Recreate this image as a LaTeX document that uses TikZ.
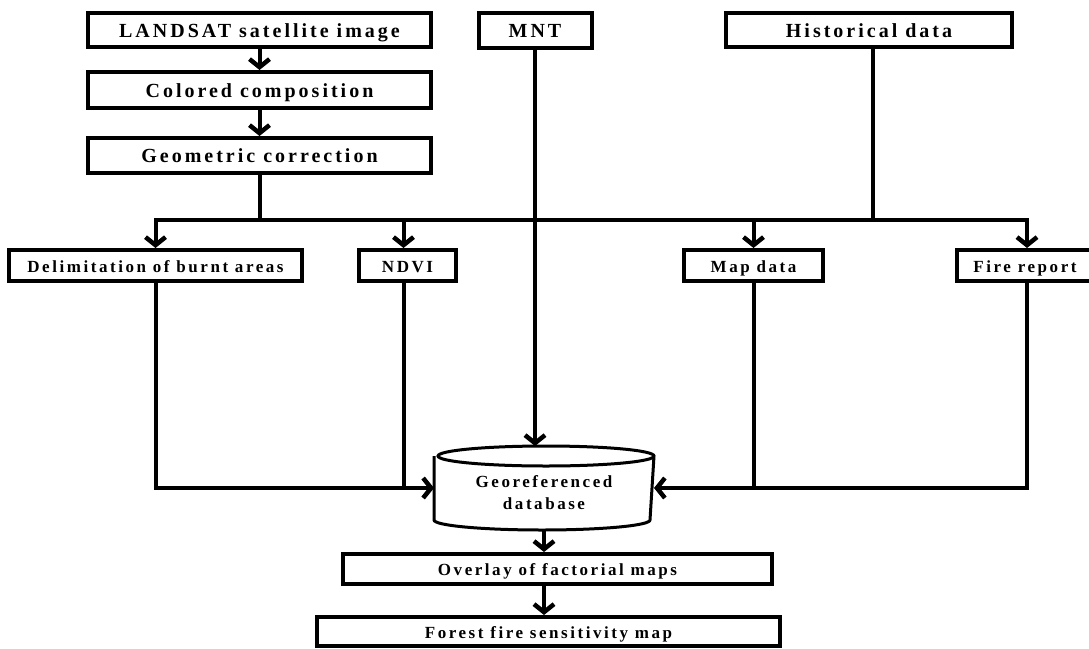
\documentclass[tikz,border=0pt]{standalone}
\usepackage{fontspec}
\newfontfamily\flowfont{Liberation Serif}[LetterSpace=15]
\usetikzlibrary{positioning, arrows.meta}
\newcommand{\lw}{4pt}

\begin{document}
\begin{tikzpicture}[
        on grid,
        x = 1pt, y = 1pt,
        -{Straight Barb[length=8pt, width=20pt, line width=4.5pt]},
        line width = \lw,
        box/.style = {draw, rectangle, inner sep = 0pt, line width = \lw,
          text height = 14pt, text depth = 0pt,
          font = \flowfont\bfseries\fontsize{20}{24}\selectfont},
        smallbox/.style = {box, text height = 13pt, font = \flowfont\bfseries\fontsize{17}{20}\selectfont},
        dbase/.style = {inner sep = 0pt, align = center, minimum width = 216pt, minimum height = 70pt,
          font = \flowfont\bfseries\fontsize{17}{22}\selectfont}]

      \useasboundingbox (0,0) rectangle (1089,-648);

      %image chain
      \node[box, minimum width = 343pt, minimum height = 34pt] (LandsatImg) at (259.5,-30) {LANDSAT satellite image};
      \node[box, minimum width = 343pt, minimum height = 36pt] (ColorComp) [below = 60pt of LandsatImg] {Colored composition};
      \node[box, minimum width = 343pt, minimum height = 35pt] (GeoCorr) [below = 65.5pt of ColorComp] {Geometric correction};

      %other sources
      \node[box, minimum width = 113pt, minimum height = 35pt] (Mnt) at (535,-30.5) {MNT};
      \node[box, minimum width = 286pt, minimum height = 34pt] (HistData) at (869,-30) {Historical data};

      %derived layers
      \node[smallbox, minimum width = 293pt, minimum height = 31pt] (BurntAreas) at (155.5,-265.5) {Delimitation of burnt areas};
      \node[smallbox, minimum width = 97pt, minimum height = 31pt] (Ndvi) at (407.5,-265.5) {NDVI};
      \node[smallbox, minimum width = 139pt, minimum height = 31pt] (MapData) at (753.5,-265.5) {Map data};
      \node[smallbox, minimum width = 136pt, minimum height = 31pt] (FireReport) at (1025,-265.5) {Fire report};

      %database
      \node[dbase] (GeoDb) at (544,-493) {Georeferenced\\database};
      \draw[-, line width = 3pt]
        (GeoDb.north west) -- ([yshift=10pt]GeoDb.south west)
        arc[start angle=180, end angle=360, x radius=108pt, y radius=10pt]
        -- (GeoDb.north east)
        arc[start angle=0, end angle=360, x radius=108pt, y radius=10pt];

      %results
      \node[smallbox, minimum width = 429pt, minimum height = 30pt] (Overlay) at (557.5,-569) {Overlay of factorial maps};
      \node[smallbox, minimum width = 463pt, minimum height = 29pt] (SensMap) at (548.5,-631.5) {Forest fire sensitivity map};

      \coordinate (Split) at (259.5,-220);
      \coordinate (HistSplit) at (873,-220);

      \begin{scope}
        % arrows
        \path
        (LandsatImg) edge (ColorComp)
        (ColorComp) edge (GeoCorr)
        (Mnt.south) edge ([yshift=10pt]Mnt.south |- GeoDb.north)
        (GeoDb.south) edge (GeoDb.south |- Overlay.north)
        (GeoDb.south |- Overlay.south) edge (GeoDb.south |- SensMap.north)
        ;
        \draw (Split) -| (BurntAreas.north);
        \draw (Split) -| ([xshift=-4pt]Ndvi.north);
        \draw (HistSplit) -| (MapData.north);
        \draw (HistSplit) -| ([xshift=2pt]FireReport.north);
        \draw (BurntAreas.south) |- ([yshift=5pt]GeoDb.west);
        \draw ([xshift=2pt]FireReport.south) |- ([yshift=5pt]GeoDb.east);
      \end{scope}

      \begin{scope}[-]
        % plain lines
        \path
        (GeoCorr.south) edge (Split)
        (Split) edge (HistSplit)
        (HistSplit |- HistData.south) edge (HistSplit)
        ([xshift=-4pt]Ndvi.south) edge ([xshift=-4pt,yshift=5pt]Ndvi.south |- GeoDb.west)
        (MapData.south) edge ([yshift=5pt]MapData.south |- GeoDb.east)
        ;
      \end{scope}
    \end{tikzpicture}
\end{document}
